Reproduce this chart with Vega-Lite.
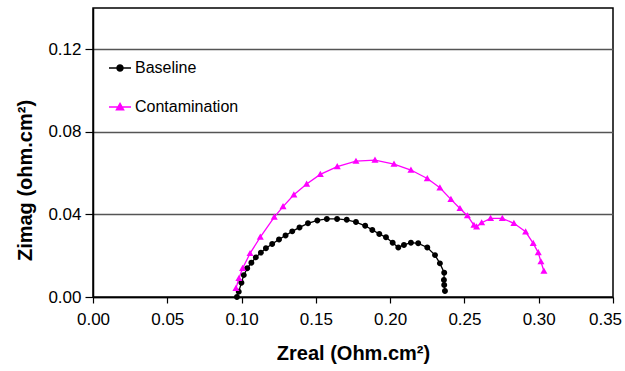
{
  "$schema": "https://vega.github.io/schema/vega-lite/v6.json",
  "width": 520,
  "height": 289,
  "autosize": {"type": "none"},
  "padding": {"left": 93, "top": 8, "right": 12, "bottom": 74},
  "background": "white",
  "config": {
    "font": "Liberation Sans",
    "view": {"stroke": "#000000", "strokeWidth": 1.5}
  },
  "data": {
    "values": [
      {"series": "Baseline", "i": 0, "zreal": 0.0969, "zimag": 0.0000},
      {"series": "Baseline", "i": 1, "zreal": 0.0981, "zimag": 0.0026},
      {"series": "Baseline", "i": 2, "zreal": 0.0999, "zimag": 0.0069},
      {"series": "Baseline", "i": 3, "zreal": 0.1015, "zimag": 0.0106},
      {"series": "Baseline", "i": 4, "zreal": 0.1038, "zimag": 0.0139},
      {"series": "Baseline", "i": 5, "zreal": 0.1066, "zimag": 0.0166},
      {"series": "Baseline", "i": 6, "zreal": 0.1096, "zimag": 0.0192},
      {"series": "Baseline", "i": 7, "zreal": 0.1130, "zimag": 0.0215},
      {"series": "Baseline", "i": 8, "zreal": 0.1164, "zimag": 0.0236},
      {"series": "Baseline", "i": 9, "zreal": 0.1206, "zimag": 0.0257},
      {"series": "Baseline", "i": 10, "zreal": 0.1252, "zimag": 0.0279},
      {"series": "Baseline", "i": 11, "zreal": 0.1296, "zimag": 0.0298},
      {"series": "Baseline", "i": 12, "zreal": 0.1341, "zimag": 0.0318},
      {"series": "Baseline", "i": 13, "zreal": 0.1390, "zimag": 0.0337},
      {"series": "Baseline", "i": 14, "zreal": 0.1447, "zimag": 0.0357},
      {"series": "Baseline", "i": 15, "zreal": 0.1510, "zimag": 0.0371},
      {"series": "Baseline", "i": 16, "zreal": 0.1574, "zimag": 0.0378},
      {"series": "Baseline", "i": 17, "zreal": 0.1643, "zimag": 0.0378},
      {"series": "Baseline", "i": 18, "zreal": 0.1708, "zimag": 0.0374},
      {"series": "Baseline", "i": 19, "zreal": 0.1770, "zimag": 0.0363},
      {"series": "Baseline", "i": 20, "zreal": 0.1832, "zimag": 0.0345},
      {"series": "Baseline", "i": 21, "zreal": 0.1880, "zimag": 0.0325},
      {"series": "Baseline", "i": 22, "zreal": 0.1927, "zimag": 0.0305},
      {"series": "Baseline", "i": 23, "zreal": 0.1972, "zimag": 0.0289},
      {"series": "Baseline", "i": 24, "zreal": 0.2017, "zimag": 0.0263},
      {"series": "Baseline", "i": 25, "zreal": 0.2055, "zimag": 0.0240},
      {"series": "Baseline", "i": 26, "zreal": 0.2093, "zimag": 0.0252},
      {"series": "Baseline", "i": 27, "zreal": 0.2140, "zimag": 0.0263},
      {"series": "Baseline", "i": 28, "zreal": 0.2189, "zimag": 0.0260},
      {"series": "Baseline", "i": 29, "zreal": 0.2250, "zimag": 0.0240},
      {"series": "Baseline", "i": 30, "zreal": 0.2302, "zimag": 0.0203},
      {"series": "Baseline", "i": 31, "zreal": 0.2335, "zimag": 0.0163},
      {"series": "Baseline", "i": 32, "zreal": 0.2364, "zimag": 0.0118},
      {"series": "Baseline", "i": 33, "zreal": 0.2362, "zimag": 0.0082},
      {"series": "Baseline", "i": 34, "zreal": 0.2364, "zimag": 0.0058},
      {"series": "Baseline", "i": 35, "zreal": 0.2369, "zimag": 0.0029},
      {"series": "Contamination", "i": 0, "zreal": 0.0962, "zimag": 0.0042},
      {"series": "Contamination", "i": 1, "zreal": 0.0982, "zimag": 0.0090},
      {"series": "Contamination", "i": 2, "zreal": 0.1007, "zimag": 0.0139},
      {"series": "Contamination", "i": 3, "zreal": 0.1057, "zimag": 0.0211},
      {"series": "Contamination", "i": 4, "zreal": 0.1126, "zimag": 0.0290},
      {"series": "Contamination", "i": 5, "zreal": 0.1220, "zimag": 0.0387},
      {"series": "Contamination", "i": 6, "zreal": 0.1279, "zimag": 0.0438},
      {"series": "Contamination", "i": 7, "zreal": 0.1352, "zimag": 0.0495},
      {"series": "Contamination", "i": 8, "zreal": 0.1438, "zimag": 0.0547},
      {"series": "Contamination", "i": 9, "zreal": 0.1530, "zimag": 0.0594},
      {"series": "Contamination", "i": 10, "zreal": 0.1644, "zimag": 0.0632},
      {"series": "Contamination", "i": 11, "zreal": 0.1770, "zimag": 0.0658},
      {"series": "Contamination", "i": 12, "zreal": 0.1898, "zimag": 0.0663},
      {"series": "Contamination", "i": 13, "zreal": 0.2026, "zimag": 0.0644},
      {"series": "Contamination", "i": 14, "zreal": 0.2140, "zimag": 0.0615},
      {"series": "Contamination", "i": 15, "zreal": 0.2250, "zimag": 0.0574},
      {"series": "Contamination", "i": 16, "zreal": 0.2335, "zimag": 0.0529},
      {"series": "Contamination", "i": 17, "zreal": 0.2409, "zimag": 0.0473},
      {"series": "Contamination", "i": 18, "zreal": 0.2470, "zimag": 0.0429},
      {"series": "Contamination", "i": 19, "zreal": 0.2520, "zimag": 0.0394},
      {"series": "Contamination", "i": 20, "zreal": 0.2564, "zimag": 0.0348},
      {"series": "Contamination", "i": 21, "zreal": 0.2582, "zimag": 0.0340},
      {"series": "Contamination", "i": 22, "zreal": 0.2616, "zimag": 0.0360},
      {"series": "Contamination", "i": 23, "zreal": 0.2676, "zimag": 0.0381},
      {"series": "Contamination", "i": 24, "zreal": 0.2755, "zimag": 0.0381},
      {"series": "Contamination", "i": 25, "zreal": 0.2833, "zimag": 0.0357},
      {"series": "Contamination", "i": 26, "zreal": 0.2912, "zimag": 0.0316},
      {"series": "Contamination", "i": 27, "zreal": 0.2963, "zimag": 0.0260},
      {"series": "Contamination", "i": 28, "zreal": 0.2997, "zimag": 0.0215},
      {"series": "Contamination", "i": 29, "zreal": 0.3015, "zimag": 0.0171},
      {"series": "Contamination", "i": 30, "zreal": 0.3035, "zimag": 0.0126}
    ]
  },
  "encoding": {
    "x": {
      "field": "zreal",
      "type": "quantitative",
      "scale": {"domain": [0, 0.35], "nice": false, "zero": false},
      "axis": {
        "values": [0, 0.05, 0.1, 0.15, 0.2, 0.25, 0.3, 0.35],
        "format": ".2f",
        "grid": false,
        "domainColor": "#000000",
        "domainWidth": 1.5,
        "tickColor": "#000000",
        "tickSize": 6,
        "tickWidth": 1.2,
        "labelFontSize": 17,
        "labelColor": "#000000",
        "labelPadding": 8,
        "labelFlush": false,
        "labelOverlap": false,
        "labelOffset": {"condition": {"test": "datum.value > 0.34", "value": -8}, "value": 0},
        "title": "Zreal (Ohm.cm²)",
        "titleFontSize": 20,
        "titleFontWeight": "bold",
        "titleColor": "#000000",
        "titleX": 260,
        "titleY": 56,
        "titleAlign": "center",
        "titleBaseline": "middle"
      }
    },
    "y": {
      "field": "zimag",
      "type": "quantitative",
      "scale": {"domain": [0, 0.14], "nice": false, "zero": false},
      "axis": {
        "values": [0, 0.04, 0.08, 0.12],
        "format": ".2f",
        "grid": true,
        "gridColor": "#555555",
        "gridWidth": 1.3,
        "gridOpacity": 1,
        "domainColor": "#000000",
        "domainWidth": 1.5,
        "tickColor": "#000000",
        "tickSize": 8,
        "tickWidth": 1.2,
        "labelFontSize": 17,
        "labelColor": "#000000",
        "labelPadding": 4,
        "labelFlush": false,
        "labelOverlap": false,
        "title": "Zimag (ohm.cm²)",
        "titleFontSize": 20,
        "titleFontWeight": "bold",
        "titleColor": "#000000",
        "titleAngle": -90,
        "titleX": -68,
        "titleY": 172,
        "titleAlign": "center",
        "titleBaseline": "middle"
      }
    },
    "color": {
      "field": "series",
      "type": "nominal",
      "scale": {"domain": ["Baseline", "Contamination"], "range": ["#000000", "#ff00ff"]},
      "legend": {
        "title": null,
        "orient": "none",
        "legendX": 15,
        "legendY": 48,
        "padding": 0,
        "symbolSize": 484,
        "labelFontSize": 16,
        "labelColor": "#000000",
        "labelOffset": 3,
        "rowPadding": 19,
        "symbolOpacity": 1,
        "encode": {"symbols": {"update": {"stroke": {"scale": "color", "field": "value"}, "strokeWidth": {"value": 1.5}}}}
      }
    }
  },
  "layer": [
    {
      "mark": {"type": "line", "strokeWidth": 1.3},
      "encoding": {
        "order": {"field": "i", "type": "quantitative"}
      }
    },
    {
      "mark": {"type": "point", "filled": true, "size": 484, "opacity": 1},
      "encoding": {
        "shape": {
          "field": "series",
          "type": "nominal",
          "scale": {
            "domain": ["Baseline", "Contamination"],
            "range": [
              "M-1,0H1M0.27,0A0.27,0.27,0,1,1,-0.27,0A0.27,0.27,0,1,1,0.27,0Z",
              "M-1,0H1M0,-0.32L0.32,0.24L-0.32,0.24Z"
            ]
          },
          "legend": {
            "title": null,
            "orient": "none",
            "legendX": 15,
            "legendY": 48,
            "padding": 0,
            "symbolSize": 484,
            "labelFontSize": 16,
            "labelColor": "#000000",
            "labelOffset": 3,
            "rowPadding": 19,
            "symbolOpacity": 1,
            "encode": {"symbols": {"update": {"stroke": {"scale": "color", "field": "value"}, "strokeWidth": {"value": 1.5}}}}
          }
        }
      }
    }
  ]
}
